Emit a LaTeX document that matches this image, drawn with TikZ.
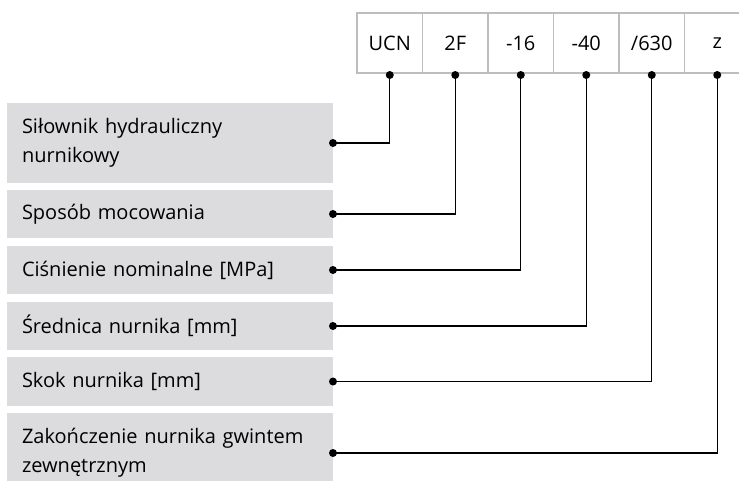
\documentclass[tikz,border=0pt]{standalone}
\usepackage{fontspec}
\setmainfont{Open Sans}
\usetikzlibrary{positioning}

\definecolor{boxgray}{HTML}{DCDCDE}
\definecolor{framegray}{HTML}{BDBDBD}

\tikzset{
	cell/.style={draw=framegray, line width=1.6pt, fill=white, outer sep=0pt, inner sep=0pt,
		minimum width=65.5pt, minimum height=60pt, font=\fontsize{20}{24}\selectfont},
	desc/.style={fill=boxgray, outer sep=0pt, inner xsep=15pt, inner ysep=0pt, minimum width=326pt,
		text width=296pt, align=left, font=\fontsize{20}{29}\selectfont},
	link/.style={line width=1.2pt},
	dot/.style={circle, fill=black, inner sep=0pt, minimum size=8pt}
}

\begin{document}
\begin{tikzpicture}[x=1pt, y=-1pt]
	\useasboundingbox (0,0) rectangle (739,481);

	%the type code, one cell per part
	\node[cell] (ucn) at (389.75,43) {UCN};
	\node[cell, right=0pt of ucn] (mount) {2F};
	\node[cell, right=0pt of mount] (press) {-16};
	\node[cell, right=0pt of press] (diam) {-40};
	\node[cell, right=0pt of diam] (stroke) {/630};
	\node[cell, right=0pt of stroke] (thread) {z};

	%what each part means
	\node[desc, anchor=north west, minimum height=80pt] (dsil) at (7,103) {Siłownik hydrauliczny\\nurnikowy};
	\node[desc, below=7pt of dsil, minimum height=48pt] (dmount) {Sposób mocowania};
	\node[desc, below=8pt of dmount, minimum height=48pt] (dpress) {Ciśnienie nominalne [MPa]};
	\node[desc, below=8pt of dpress, minimum height=48pt] (ddiam) {Średnica nurnika [mm]};
	\node[desc, below=7pt of ddiam, minimum height=49pt] (dstroke) {Skok nurnika [mm]};
	\node[desc, below=7pt of dstroke, minimum height=80pt] (dthread) {Zakończenie nurnika gwintem\\zewnętrznym};

	%connectors from the descriptions up to the cells
	\draw[link] (dsil.east) -| ([yshift=-2pt]ucn.south);
	\draw[link] (dmount.east) -| ([yshift=-2pt]mount.south);
	\draw[link] (dpress.east) -| ([yshift=-2pt]press.south);
	\draw[link] (ddiam.east) -| ([yshift=-2pt]diam.south);
	\draw[link] (dstroke.east) -| ([yshift=-2pt]stroke.south);
	\draw[link] (dthread.east) -| ([yshift=-2pt]thread.south);

	%the dots at both ends
	\node[dot] at (dsil.east) {};
	\node[dot] at (dmount.east) {};
	\node[dot] at (dpress.east) {};
	\node[dot] at (ddiam.east) {};
	\node[dot] at (dstroke.east) {};
	\node[dot] at (dthread.east) {};
	\node[dot] at ([yshift=-2pt]ucn.south) {};
	\node[dot] at ([yshift=-2pt]mount.south) {};
	\node[dot] at ([yshift=-2pt]press.south) {};
	\node[dot] at ([yshift=-2pt]diam.south) {};
	\node[dot] at ([yshift=-2pt]stroke.south) {};
	\node[dot] at ([yshift=-2pt]thread.south) {};
\end{tikzpicture}
\end{document}
